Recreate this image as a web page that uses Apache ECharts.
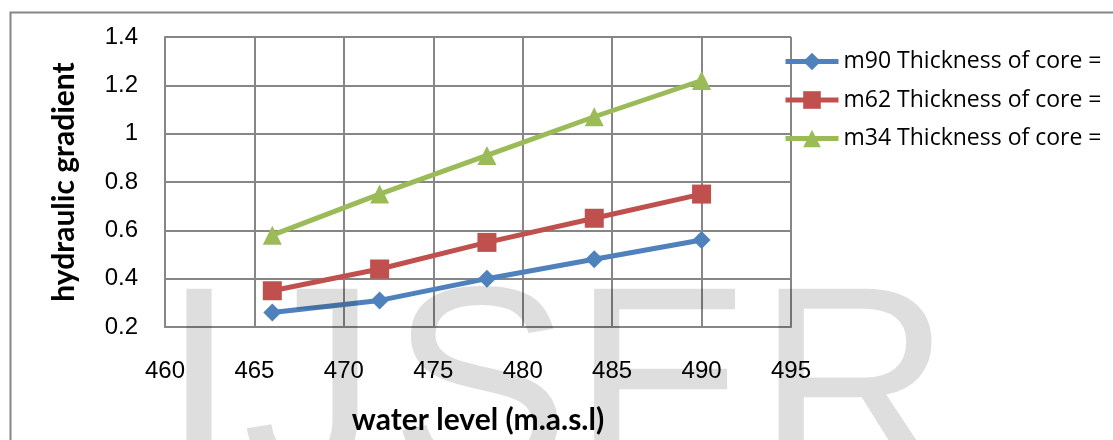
<!DOCTYPE html>
<html><head><meta charset="utf-8">
<script src="https://cdn.jsdelivr.net/npm/echarts@6/dist/echarts.min.js"></script>
<style>html,body{margin:0;padding:0;background:#fff}#c{width:1113px;height:440px}</style>
</head><body><div id="c"></div>
<script>
const waterLevel = [466, 472, 478, 484, 490];
const m90 = [0.26, 0.31, 0.40, 0.48, 0.56];
const m62 = [0.35, 0.44, 0.55, 0.65, 0.75];
const m34 = [0.58, 0.75, 0.91, 1.07, 1.22];
const seriesNames = ['m90 Thickness of core =', 'm62 Thickness of core =', 'm34 Thickness of core ='];
const xTitle = 'water level (m.a.s.l)';
const yTitle = 'hydraulic gradient';
const watermark = ['I', 'J', 'S', 'E', 'R'];

const chart = echarts.init(document.getElementById('c'), null, {renderer: 'canvas'});
const colors = ['#4F81BD', '#C0504D', '#9BBB59'];
const symbols = ['diamond', 'rect', 'triangle'];
const sizes = [18, 19, 19];
const data = [m90, m62, m34];
const wmX = [199, 310, 480, 662, 854];

chart.setOption({
  animation: false,
  backgroundColor: '#fff',
  grid: {left: 165, top: 37, width: 626, height: 290, containLabel: false},
  xAxis: {
    type: 'value', min: 460, max: 495, interval: 5,
    name: xTitle, nameLocation: 'middle', nameGap: 78,
    nameTextStyle: {fontFamily: 'Lato', fontWeight: 'bold', fontSize: 30, color: '#000'},
    axisLine: {show: true, lineStyle: {color: '#868686', width: 2}},
    axisTick: {show: false},
    splitLine: {show: true, lineStyle: {color: '#868686', width: 2}},
    axisLabel: {margin: 32, fontFamily: 'Liberation Sans', fontSize: 24, color: '#000'}
  },
  yAxis: {
    type: 'value', min: 0.2, max: 1.4, interval: 0.2,
    name: yTitle, nameLocation: 'middle', nameGap: 86, nameRotate: 90,
    nameTextStyle: {fontFamily: 'Lato', fontWeight: 'bold', fontSize: 30, color: '#000'},
    axisLine: {show: true, lineStyle: {color: '#868686', width: 2}},
    axisTick: {show: false},
    splitLine: {show: true, lineStyle: {color: '#868686', width: 2}},
    axisLabel: {margin: 27, fontFamily: 'Liberation Sans', fontSize: 24, color: '#000',
      formatter: v => String(Math.round(v * 10) / 10)}
  },
  legend: {
    left: 778, top: 45, orient: 'vertical', itemWidth: 53, itemHeight: 22, itemGap: 15.5,
    lineStyle: {width: 5},
    textStyle: {fontFamily: 'Open Sans', fontSize: 23, color: '#000', padding: [0, 0, 0, 0]},
    data: seriesNames
  },
  series: seriesNames.map((n, i) => ({
    name: n, type: 'line',
    data: waterLevel.map((x, j) => [x, data[i][j]]),
    symbol: symbols[i], symbolSize: sizes[i],
    lineStyle: {color: colors[i], width: 5},
    itemStyle: {color: colors[i]},
    z: 3
  })),
  graphic: [
    {type: 'rect', left: 8, top: 10, shape: {width: 1200, height: 500},
      style: {fill: 'none', stroke: '#868686', lineWidth: 2}, z: 0, silent: true}
  ].concat(watermark.map((t, i) => ({
    type: 'text', x: wmX[i], y: 400, z: 100, silent: true,
    style: {text: t, font: '270px "Liberation Sans"', fill: 'rgba(0,0,0,0.13)', align: 'center', verticalAlign: 'middle'}
  })))
});
</script></body></html>
